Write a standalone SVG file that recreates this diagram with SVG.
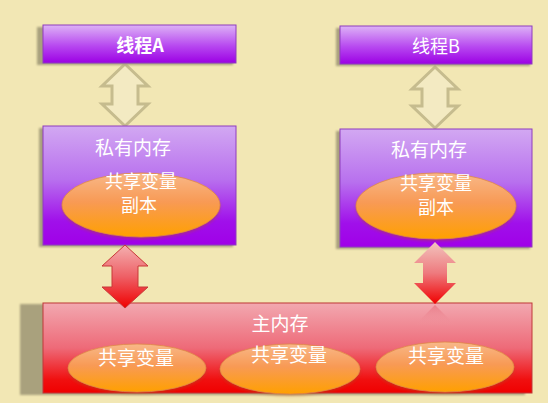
<svg xmlns="http://www.w3.org/2000/svg" width="548" height="403" viewBox="0 0 548 403">
<defs>
<linearGradient id="gThread" x1="0" y1="0" x2="0" y2="1">
<stop offset="0" stop-color="#DDB2F6"/>
<stop offset="0.55" stop-color="#B748F0"/>
<stop offset="1" stop-color="#9C00E4"/>
</linearGradient>
<linearGradient id="gPriv" x1="0" y1="0" x2="0" y2="1">
<stop offset="0" stop-color="#D2A8F2"/>
<stop offset="0.45" stop-color="#B870EE"/>
<stop offset="0.8" stop-color="#A010EA"/>
<stop offset="1" stop-color="#A000E8"/>
</linearGradient>
<linearGradient id="gMain" x1="0" y1="0" x2="0" y2="1">
<stop offset="0" stop-color="#F2A8B0"/>
<stop offset="0.5" stop-color="#EE6A78"/>
<stop offset="0.85" stop-color="#F01010"/>
<stop offset="1" stop-color="#F00000"/>
</linearGradient>
<linearGradient id="gEll" x1="0" y1="0" x2="0" y2="1">
<stop offset="0" stop-color="#F8B888"/>
<stop offset="0.45" stop-color="#F89A55"/>
<stop offset="1" stop-color="#FFA000"/>
</linearGradient>
<linearGradient id="gRed" x1="0" y1="0" x2="0" y2="1">
<stop offset="0" stop-color="#F4B0B0"/>
<stop offset="0.5" stop-color="#EE6066"/>
<stop offset="1" stop-color="#F00000"/>
</linearGradient>
<linearGradient id="gRedB" x1="0" y1="0" x2="0" y2="1">
<stop offset="0" stop-color="#F2C4BE"/>
<stop offset="0.5" stop-color="#EE7A7E"/>
<stop offset="1" stop-color="#F00000"/>
</linearGradient>
<linearGradient id="gRefl" x1="0" y1="0" x2="0" y2="1">
<stop offset="0" stop-color="#E05060" stop-opacity="0.45"/>
<stop offset="1" stop-color="#F0A0A8" stop-opacity="0"/>
</linearGradient>
<filter id="blur" x="-10%" y="-10%" width="120%" height="120%"><feGaussianBlur stdDeviation="1"/></filter>
<filter id="eshadow" x="-10%" y="-20%" width="120%" height="140%"><feGaussianBlur stdDeviation="1.5"/></filter>
</defs>
<style>
.shadow{fill:#A9A17D;filter:url(#blur)}
.thread{fill:url(#gThread);stroke:#8E3CBE;stroke-width:1}
.priv{fill:url(#gPriv);stroke:#8E3CBE;stroke-width:1}
.main{fill:url(#gMain);stroke:#C03838;stroke-width:1}
.ell{fill:url(#gEll);stroke:#E08848;stroke-width:0.8}
.eshd{fill:#B05020;opacity:0.45;filter:url(#eshadow)}
.t{font-family:"Noto Sans CJK SC","Noto Sans",sans-serif;fill:#FFFFFF;text-anchor:middle}
.tb{font-weight:bold;font-size:18px}
.tm{font-size:19px}
.ts{font-size:18px}
.beige{fill:#F3EAC2;stroke:#C6BC8E;stroke-width:3;stroke-linejoin:miter}
.red{fill:url(#gRed);stroke:#C83838;stroke-width:1}
.redB{fill:url(#gRedB)}
</style>
<rect width="548" height="403" fill="#F2E7B4"/>

<g id="connectors">
<path class="beige" d="M125,64 L148,86 L138,86 L138,104 L148,104 L125,126 L102,104 L112,104 L112,86 L102,86 Z"/>
<path class="beige" d="M435,67 L458,89 L448,89 L448,106 L458,106 L435,128 L412,106 L422,106 L422,89 L412,89 Z"/>
</g>

<g id="threadA">
<rect class="shadow" x="37" y="27" width="196" height="38"/>
<rect class="thread" x="43" y="25" width="193" height="38"/>
<text class="t tb" x="140" y="52">线程A</text>
</g>
<g id="threadB">
<rect class="shadow" x="336" y="28" width="194" height="38"/>
<rect class="thread" x="340" y="26" width="192" height="38"/>
<text class="t tb" x="436" y="53" style="font-weight:normal">线程B</text>
</g>

<g id="privA">
<rect class="shadow" x="39" y="128" width="194" height="119"/>
<rect class="priv" x="43" y="126" width="193" height="119"/>
<text class="t tm" x="133" y="155">私有内存</text>
<ellipse class="eshd" cx="141" cy="207" rx="79" ry="32"/>
<ellipse class="ell" cx="141" cy="205" rx="79" ry="32"/>
<text class="t ts" x="141" y="188">共享变量</text>
<text class="t ts" x="139" y="212">副本</text>
</g>
<g id="privB">
<rect class="shadow" x="336" y="131" width="194" height="118"/>
<rect class="priv" x="340" y="129" width="192" height="118"/>
<text class="t tm" x="429" y="157">私有内存</text>
<ellipse class="eshd" cx="436" cy="208" rx="80" ry="33"/>
<ellipse class="ell" cx="436" cy="206" rx="80" ry="33"/>
<text class="t ts" x="436" y="190">共享变量</text>
<text class="t ts" x="436" y="214">副本</text>
</g>

<g id="mainMemory">
<rect class="shadow" x="20" y="304" width="505" height="91"/>
<rect class="main" x="43" y="303" width="489" height="90"/>
<path d="M435,305 L456,326 L414,326 Z" fill="url(#gRefl)"/>
<text class="t tm" x="280" y="331">主内存</text>
<ellipse class="eshd" cx="137" cy="370" rx="69" ry="24"/>
<ellipse class="ell" cx="137" cy="368" rx="69" ry="24"/>
<text class="t tm" x="136" y="365">共享变量</text>
<ellipse class="eshd" cx="290" cy="371" rx="70" ry="25"/>
<ellipse class="ell" cx="290" cy="369" rx="70" ry="25"/>
<text class="t tm" x="289" y="362">共享变量</text>
<ellipse class="eshd" cx="445" cy="369" rx="69" ry="25"/>
<ellipse class="ell" cx="445" cy="367" rx="69" ry="25"/>
<text class="t tm" x="446" y="363">共享变量</text>
</g>

<g id="connectorsRed">
<path class="red" d="M125,245 L148,266 L138,266 L138,287 L148,287 L125,308 L102,287 L112,287 L112,266 L102,266 Z"/>
<path class="redB" d="M435,242 L456,263 L447,263 L447,283 L456,283 L435,304 L414,283 L423,283 L423,263 L414,263 Z"/>
</g>
</svg>
